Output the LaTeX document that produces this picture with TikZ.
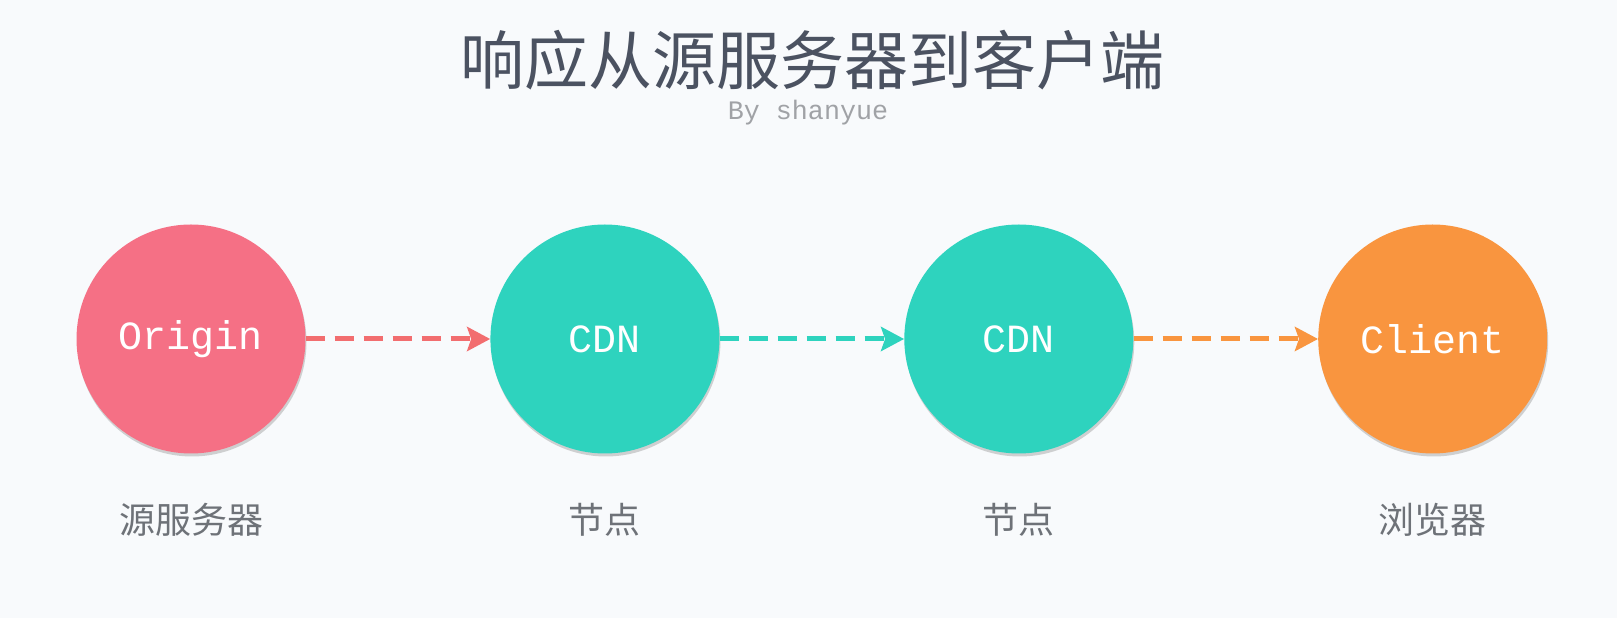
\documentclass[tikz,border=0pt]{standalone}
\usepackage{fontspec}
\newfontfamily\cjk{Noto Sans CJK SC}
\newfontfamily\mono{Liberation Mono}
\usetikzlibrary{arrows.meta, positioning, shadows}

\definecolor{bgcol}{HTML}{F8FAFC}
\definecolor{titlecol}{HTML}{4B5261}
\definecolor{labelcol}{HTML}{6E7278}
\definecolor{bycol}{HTML}{A0A2A6}
\definecolor{originred}{HTML}{F57085}
\definecolor{arrowred}{HTML}{F26D6F}
\definecolor{cdnteal}{HTML}{2ED3BE}
\definecolor{clientorange}{HTML}{F9953F}

\begin{document}
\begin{tikzpicture}[
    x=1pt, y=1pt,
    station/.style = {circle, minimum size=229pt, inner sep=0pt, text=white,
                      font=\mono\fontsize{40}{44}\selectfont,
                      drop shadow={opacity=0.35, shadow xshift=1pt, shadow yshift=-3pt}},
    caption/.style = {inner sep=0pt, text=labelcol, font=\cjk\fontsize{36}{40}\selectfont},
    flow/.style = {-{Stealth[length=23pt, width=24pt, inset=4pt]}, line width=5pt,
                   dash pattern=on 19pt off 10pt}
  ]

  % Canvas
  \fill[bgcol] (0,0) rectangle (1617,618);
  \useasboundingbox (0,0) rectangle (1617,618);

  % Title
  \node[text=titlecol, font=\cjk\fontsize{64}{70}\selectfont] (title) at (812,558) {响应从源服务器到客户端};
  \node[text=bycol, font=\mono\fontsize{26.7}{30}\selectfont] (author) at (808,505) {By shanyue};

  % Stations
  \node[station, fill=originred] (origin) at (191,279) {Origin};
  \node[station, fill=cdnteal, right=184.5pt of origin] (cdnA) {CDN};
  \node[station, fill=cdnteal, right=184.5pt of cdnA] (cdnB) {CDN};
  \node[station, fill=clientorange, right=184.5pt of cdnB] (client) {Client};

  % Captions
  \node[caption, below=49pt of origin] (originlbl) {源服务器};
  \node[caption, below=49pt of cdnA] (cdnAlbl) {节点};
  \node[caption, below=49pt of cdnB] (cdnBlbl) {节点};
  \node[caption, below=49pt of client] (clientlbl) {浏览器};

  % Arrows
  \draw[flow, arrowred] (origin) -- (cdnA);
  \draw[flow, cdnteal] (cdnA) -- (cdnB);
  \draw[flow, clientorange] (cdnB) -- (client);

\end{tikzpicture}
\end{document}
